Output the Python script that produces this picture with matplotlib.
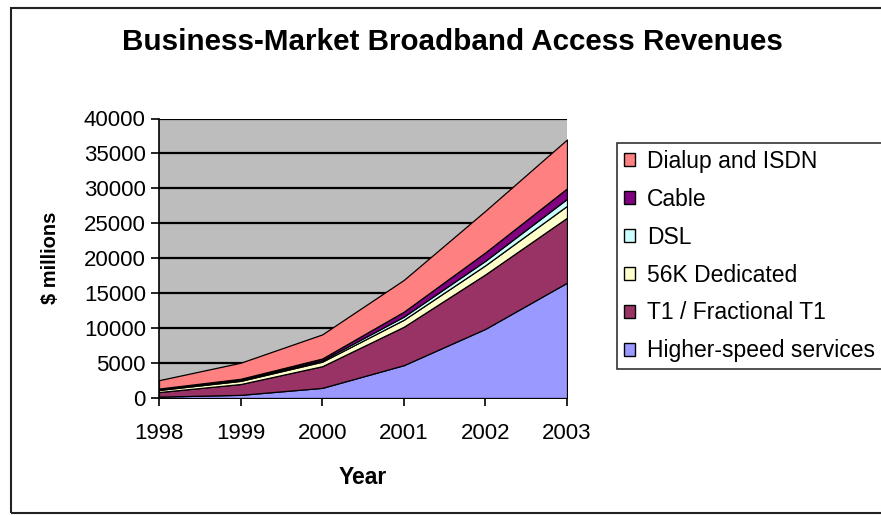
import matplotlib
matplotlib.use('Agg')
import matplotlib.pyplot as plt
from matplotlib.patches import Rectangle, Patch

plt.rcParams['font.family'] = ['Liberation Sans', 'DejaVu Sans']

# Revenues in $ millions, stacked bottom to top
years = [1998, 1999, 2000, 2001, 2002, 2003]
higher_speed = [200, 450, 1450, 4700, 9900, 16500]
t1_fractional = [650, 1550, 3100, 5500, 7800, 9300]
dedicated_56k = [300, 450, 650, 1000, 1300, 1700]
dsl = [100, 150, 200, 450, 650, 1000]
cable = [100, 150, 250, 700, 1200, 1500]
dialup_isdn = [1200, 2300, 3450, 4550, 5950, 7000]

labels = ['Higher-speed services', 'T1 / Fractional T1', '56K Dedicated',
          'DSL', 'Cable', 'Dialup and ISDN']
colors = ['#9999FF', '#993366', '#FFFFCC', '#CCFFFF', '#800080', '#FF8080']

fig = plt.figure(figsize=(8.81, 5.15), dpi=100)
ax = fig.add_axes([159 / 881, 1 - 398 / 515, (567 - 159) / 881, (398 - 118.5) / 515])

ax.set_facecolor('#BDBDBD')
ax.stackplot(years, higher_speed, t1_fractional, dedicated_56k, dsl, cable, dialup_isdn,
             colors=colors, edgecolor='black', linewidth=0.9, zorder=3)

ax.set_xlim(1998, 2003)
ax.set_ylim(0, 40000)
ax.set_yticks(range(0, 40001, 5000))
ax.set_xticks(years)
ax.yaxis.grid(True, color='black', linewidth=1.6, zorder=1)
ax.set_axisbelow(True)

for side in ['top', 'right']:
    ax.spines[side].set_visible(False)
ax.spines['left'].set_linewidth(1.2)
ax.spines['bottom'].set_linewidth(1.2)
ax.tick_params(axis='both', direction='out', length=6, width=1.2, labelsize=16)
ax.tick_params(axis='x', pad=12)

ax.set_xlabel('Year', fontsize=16.5, fontweight='bold', labelpad=16)
ax.set_ylabel('$ millions', fontsize=14.5, fontweight='bold', labelpad=17)

fig.text(0.514, 1 - 42 / 515, 'Business-Market Broadband Access Revenues',
         ha='center', va='center', fontsize=21.3, fontweight='bold')

# Legend lists the top layer first
handles = [Patch(facecolor=c, edgecolor='black', linewidth=1.0) for c in colors][::-1]
leg = fig.legend(handles, labels[::-1], loc='upper left',
                 bbox_to_anchor=(617 / 881, 1 - 143 / 515), borderaxespad=0,
                 fontsize=16.5, frameon=True, fancybox=False, edgecolor='black',
                 handlelength=0.5, handleheight=0.5, handletextpad=0.5,
                 labelspacing=0.65, borderpad=0.3)
leg.get_frame().set_linewidth(1.2)

# Outer chart border
fig.patches.append(Rectangle((11 / 881, 1 - 513 / 515), 1.2, (513 - 8) / 515,
                             transform=fig.transFigure, fill=False,
                             edgecolor='#222222', linewidth=1.5))

fig.savefig('out.png', dpi=100)
